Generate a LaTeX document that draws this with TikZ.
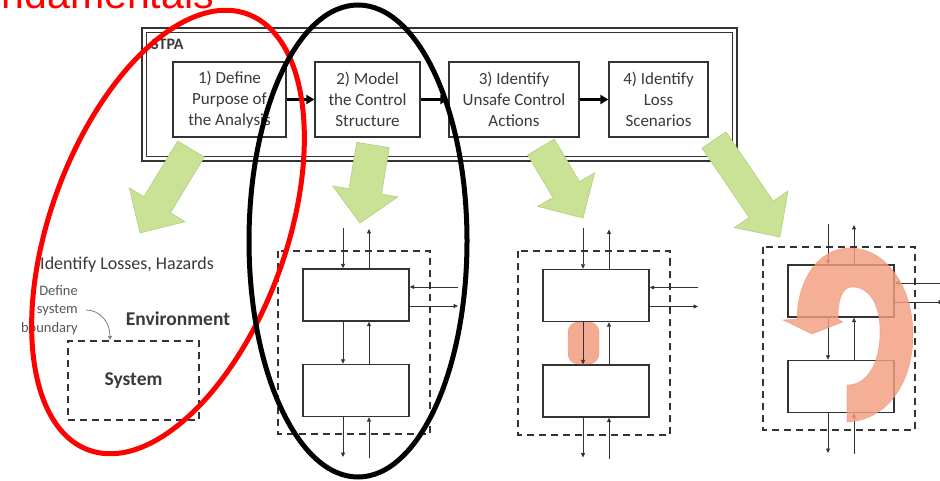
\documentclass[tikz,border=0pt]{standalone}
\usepackage{fontspec}
\setmainfont{Carlito}
\newfontfamily\arialf{Liberation Sans}
\usetikzlibrary{calc,arrows.meta}
\definecolor{ink}{HTML}{333333}
\definecolor{txt}{HTML}{3A3A3A}
\definecolor{gfill}{HTML}{C9E295}
\definecolor{gedge}{HTML}{B2CE80}
\definecolor{salmon}{HTML}{F29E80}
\definecolor{salmonedge}{HTML}{E07F60}
\definecolor{pptred}{HTML}{FF0000}
\tikzset{
  stepbox/.style={draw=ink, line width=1.3pt, fill=white, minimum width=#1, minimum height=75pt, inner sep=0pt, align=center, text=txt, font=\fontsize{17}{21}\selectfont},
  steparr/.style={line width=2.6pt, -{Triangle[length=8pt,width=9pt]}},
  crect/.style={draw=ink, line width=1.4pt, fill=white, minimum width=106pt, minimum height=52pt, inner sep=0pt},
  dashbox/.style={draw=ink, line width=2pt, dash pattern=on 7pt off 5pt},
  sarr/.style={draw=ink, line width=0.8pt, -{Triangle[length=4.5pt,width=4pt]}},
  garrow/.style={fill=gfill, draw=gedge, line width=0.6pt},
}
\newcommand\GArrow[6]{%
  \coordinate (#1t) at (#2); \coordinate (#1p) at (#3);
  \coordinate (#1b) at ($(#1p)!#6!(#1t)$);
  \path[garrow] ($(#1t)!#4!90:(#1p)$) -- ($(#1b)!#4!90:(#1p)$) -- ($(#1b)!#5!90:(#1p)$) -- (#1p)
     -- ($(#1b)!#5!-90:(#1p)$) -- ($(#1b)!#4!-90:(#1p)$) -- ($(#1t)!#4!-90:(#1p)$) -- cycle;}
\newcommand\CSect[3]{%
  \begin{scope}[shift={(#2,#3)}]
    \draw[dashbox] (278,251) rectangle (430,434);
    \node[crect] (#1u) at (356,295) {};
    \node[crect] (#1l) at (356,390.5) {};
    \coordinate (#1xa) at (343,228);
    \coordinate (#1xb) at (369,229);
    \coordinate (#1ra) at (458,287);
    \coordinate (#1rb) at (458,306);
    \coordinate (#1ba) at (343,457);
    \coordinate (#1bb) at (369,458);
    \draw[sarr] (#1xa) -- (#1xa |- #1u.north);
    \draw[sarr] (#1xb |- #1u.north) -- (#1xb);
    \draw[sarr] (#1ra) -- (#1ra -| #1u.east);
    \draw[sarr] (#1rb -| #1u.east) -- (#1rb);
    \draw[sarr] (#1xa |- #1u.south) -- (#1xa |- #1l.north);
    \draw[sarr] (#1xb |- #1l.north) -- (#1xb |- #1u.south);
    \draw[sarr] (#1xa |- #1l.south) -- (#1ba);
    \draw[sarr] (#1bb) -- (#1xb |- #1l.south);
  \end{scope}}
\begin{document}
\begin{tikzpicture}[x=1pt,y=-1pt]
\useasboundingbox (0,0) rectangle (940,481);
\clip (0,0) rectangle (940,481);
\fill[white] (0,0) rectangle (940,481);

% title fragment (cut off at the top, as in the reference)
\node[anchor=base east, inner sep=0pt, text=pptred, font=\arialf\fontsize{41}{41}\selectfont] (title) at (214,8.5) {Fundamentals};

% STPA frame
\draw[ink, line width=2pt] (142,28) rectangle (737,161);
\draw[ink, line width=1.3pt] (146.5,32.5) rectangle (732.5,156.5);
\node[anchor=west, inner sep=0pt, text=txt, font=\bfseries\fontsize{16}{16}\selectfont] (stpa) at (151,44) {STPA};

\node[stepbox=113pt] (s1) at (229.5,99.5) {1) Define\\Purpose of\\the Analysis};
\node[stepbox=105pt] (s2) at (367.5,99.5) {2) Model\\the Control\\Structure};
\node[stepbox=130pt] (s3) at (514,99.5) {3) Identify\\Unsafe Control\\Actions};
\node[stepbox=99pt] (s4) at (658.5,99.5) {4) Identify\\Loss\\Scenarios};
\draw[steparr] (s1) -- (s2);
\draw[steparr] (s2) -- (s3);
\draw[steparr] (s3) -- (s4);

% green arrows
\GArrow{ga1}{191,149}{140,233}{15.5pt}{32.5pt}{33pt}
\GArrow{ga2}{373,145}{360,223}{16.5pt}{33pt}{32pt}
\GArrow{ga3}{541,147}{583,218}{15.5pt}{33pt}{33pt}
\GArrow{ga4}{714,140}{780,237}{14.5pt}{32.5pt}{33.5pt}

% section 1
\node[anchor=east, inner sep=0pt, text=txt, font=\fontsize{18}{18}\selectfont] (idl) at (214,265) {Identify Losses, Hazards};
\node[anchor=east, inner sep=0pt, align=right, text=txt!85, font=\fontsize{14.5}{18.5}\selectfont] (dsb) at (78,310) {Define\\system\\boundary};
\node[inner sep=0pt, text=txt, font=\bfseries\fontsize{19.5}{20}\selectfont] (env) at (178,319) {Environment};
\node[dashbox, minimum width=131pt, minimum height=79pt, inner sep=0pt, text=txt, font=\bfseries\fontsize{19.5}{20}\selectfont] (sys) at (133.5,380.5) {System};
\draw[draw=gray, line width=0.8pt, -{Triangle[length=4pt,width=4pt]}] (dsb.east |- 0,310) ++(8,0) coordinate (dsbs) (dsbs) .. controls (100,310) and (110,322) .. (sys.north -| 110,0);

% sections 2-4
\CSect{b}{0}{0}
\CSect{c}{240}{0.5}
\CSect{d}{485}{-4}

% UCA highlight
\path[fill=salmon, fill opacity=0.85, draw=salmonedge, draw opacity=0.5, rounded corners=10pt] (568,322) rectangle (599,364);
\draw[sarr] (cxa |- cu.south) -- (cxa |- cl.north);

% loss scenario curved arrow
\path[fill=salmon, fill opacity=0.82, draw=salmonedge, draw opacity=0.4, line width=0.6pt]
  (847,422) .. controls (885,421) and (913,385) .. (913,335)
  .. controls (913,285) and (885,248) .. (850,248)
  .. controls (815,248) and (797,285) .. (797,319)
  -- (783,320) -- (812,334) -- (843,322) -- (838,319)
  .. controls (838,300) and (842,287) .. (852,287)
  .. controls (870,287) and (880,305) .. (880,332)
  .. controls (880,362) and (868,385) .. (847,385) -- cycle;

% ellipses
\draw[pptred, line width=5pt, rotate around={-20:(168,232)}] (168,232) ellipse [x radius=118, y radius=232];
\draw[black, line width=5pt] (358,241) ellipse [x radius=109, y radius=236];
\end{tikzpicture}
\end{document}
